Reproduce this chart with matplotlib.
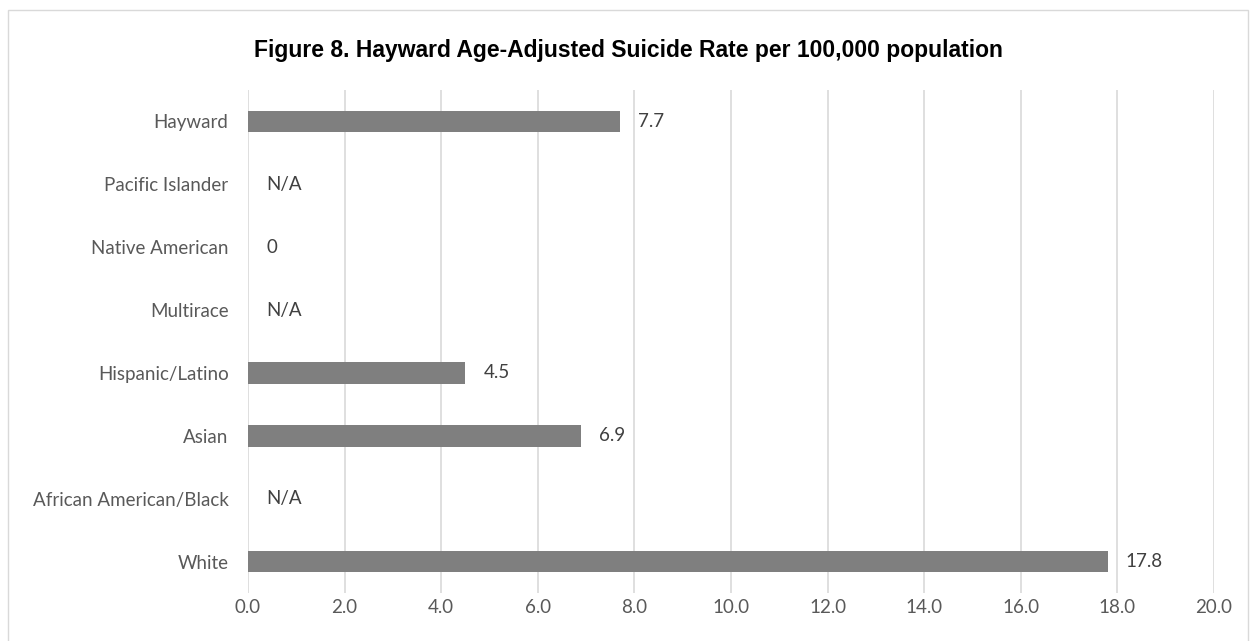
import matplotlib.pyplot as plt
from matplotlib.patches import Rectangle

# rates per 100,000 (None = not available)
groups = ["White", "African American/Black", "Asian", "Hispanic/Latino",
          "Multirace", "Native American", "Pacific Islander", "Hayward"]
rates = [17.8, None, 6.9, 4.5, None, 0, None, 7.7]
x_ticks = [0, 2, 4, 6, 8, 10, 12, 14, 16, 18, 20]

txt = "#595959"
plt.rcParams['font.family'] = ['Lato', 'DejaVu Sans']

fig = plt.figure(figsize=(12.56, 6.41), dpi=100)
ax = fig.add_axes([248/1256, 1 - 593/641, (1214-248)/1256, (593-90)/641])

ypos = list(range(len(groups)))
vals = [r if r is not None else 0 for r in rates]
ax.barh(ypos, vals, height=0.34, color="#7f7f7f", zorder=3)

for y, r in zip(ypos, rates):
    if r is None:
        label, xr = "N/A", 0
    else:
        label, xr = (f"{r:g}" if r == 0 else f"{r:.1f}"), r
    ax.annotate(label, (xr, y), xytext=(13, 0), textcoords="offset points",
                va="center", ha="left", fontsize=13.5, color="#404040")

ax.set_xlim(0, 20)
ax.set_ylim(-0.5, len(groups) - 0.5)
ax.set_xticks(x_ticks)
ax.set_xticklabels([f"{t:.1f}" for t in x_ticks], fontsize=13.5, color=txt)
ax.set_yticks(ypos)
ax.set_yticklabels(groups, fontsize=13.5, color=txt)
ax.tick_params(length=0)
ax.tick_params(axis="x", pad=4)
ax.tick_params(axis="y", pad=14)
ax.grid(axis="x", color="#d9d9d9", linewidth=1.2, zorder=0)
for s in ax.spines.values():
    s.set_visible(False)

fig.text(0.5, 1 - 51/641, "Figure 8. Hayward Age-Adjusted Suicide Rate per 100,000 population",
         ha="center", va="center", fontsize=16.5, fontweight="bold",
         family="Liberation Sans", color="black")

# chart frame
fig.patches.append(Rectangle((8/1256, -0.01), (1248-8)/1256, 1 - 10/641 + 0.01,
                             transform=fig.transFigure, fill=False,
                             edgecolor="#d9d9d9", linewidth=1))

fig.savefig("out.png", dpi=100)
